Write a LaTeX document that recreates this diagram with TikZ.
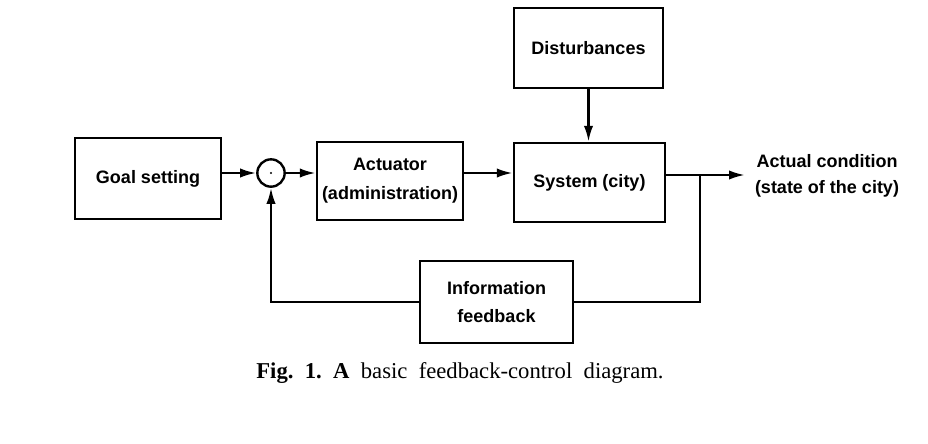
\documentclass[tikz,border=0pt]{standalone}
\usepackage{fontspec}
\setmainfont{Liberation Serif}
\newfontfamily\labfont{Liberation Sans}
\usetikzlibrary{arrows.meta,calc}
\begin{document}
\begin{tikzpicture}[x=0.75pt,y=-0.75pt,
  box/.style={draw,line width=1.8pt,align=center,inner sep=0pt,font=\labfont\bfseries\fontsize{13.5}{21.5}\selectfont},
  conn/.style={line width=1.8pt},
  arr/.style={conn,-{Latex[length=12pt,width=7pt]}},
  lbl/.style={align=center,inner sep=0pt,font=\labfont\bfseries\fontsize{13.5}{20}\selectfont}]
\useasboundingbox (0,0) rectangle (928,443);
\node[box,minimum width=109.5pt,minimum height=60.75pt] (goal) at (148,178.5) {Goal setting};
\node[draw,circle,line width=1.8pt,minimum size=20.5pt,inner sep=0pt] (sum) at (271,173) {};
\fill (sum.center) circle (0.9pt);
\node[box,minimum width=109.5pt,minimum height=58.5pt] (act) at (390,181) {Actuator\\(administration)};
\node[box,minimum width=113.25pt,minimum height=59.25pt] (sys) at (589.5,182.5) {System (city)};
\node[box,minimum width=111.75pt,minimum height=60pt] (dist) at (588.5,48) {Disturbances};
\node[box,minimum width=114.75pt,minimum height=61.5pt] (fb) at (496.5,302) {Information\\feedback};
\node[lbl] (out) at (827,176) {Actual condition\\(state of the city)};
\coordinate (tip) at (745,175);
\coordinate (br) at (700,175);
\node[inner sep=0pt,font=\fontsize{17}{20}\selectfont] (cap) at (460,373) {\textbf{Fig.\ \ 1.\ \ A}\ \ basic\ \ feedback-control\ \ diagram.};
\draw[arr] (goal.east |- sum.west) -- (sum.west);
\draw[arr] (sum.east) -- (act.west |- sum.east);
\draw[arr] (act.east |- sum.east) -- (sys.west |- sum.east);
\draw[arr] (dist.south) -- (sys.north -| dist.south);
\draw[arr] (sys.east |- tip) -- (tip);
\draw[conn] (br) |- (fb.east);
\draw[arr] (fb.west) -| (sum.south);
\end{tikzpicture}
\end{document}
